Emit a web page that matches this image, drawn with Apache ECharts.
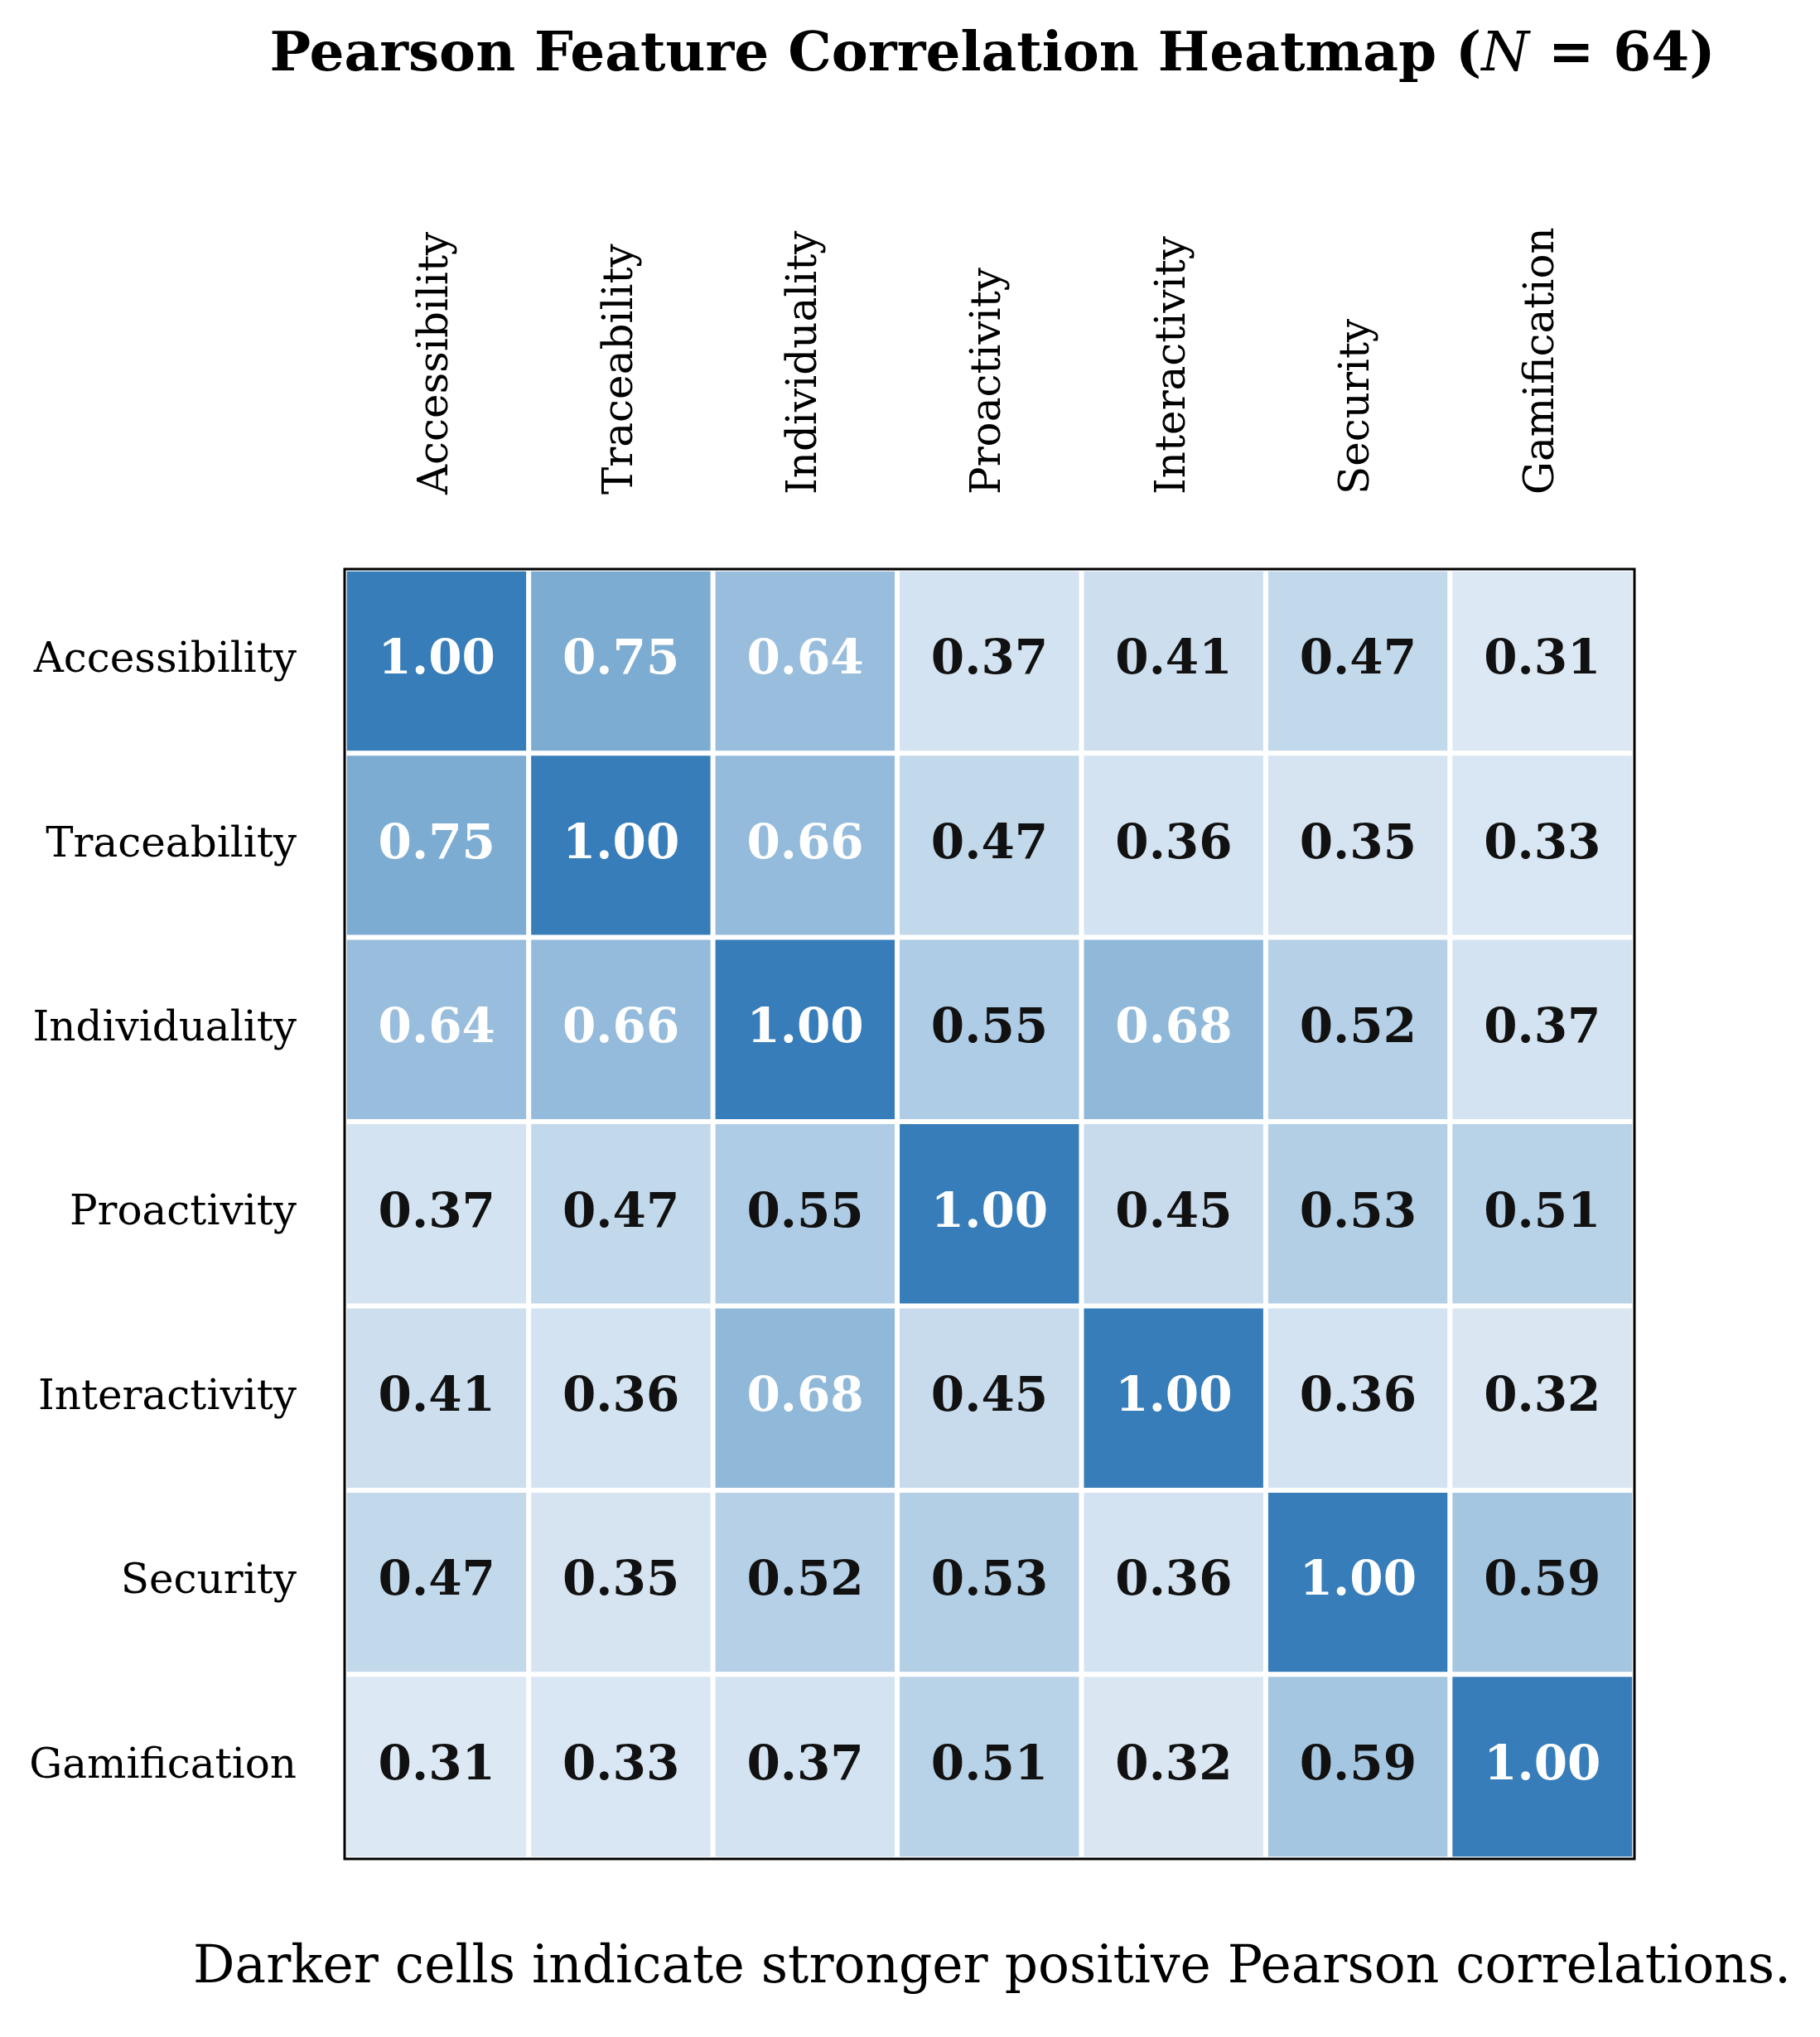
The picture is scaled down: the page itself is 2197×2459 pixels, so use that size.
<!DOCTYPE html>
<html><head><meta charset="utf-8">
<script src="https://cdn.jsdelivr.net/npm/echarts@6/dist/echarts.min.js"></script>
<style>html,body{margin:0;background:#fff}#main{width:2197px;height:2459px}</style>
</head><body><div id="main"></div>
<script>
var features = ['Accessibility', 'Traceability', 'Individuality', 'Proactivity', 'Interactivity', 'Security', 'Gamification']
var corr = [
	[1.00, 0.75, 0.64, 0.37, 0.41, 0.47, 0.31],
	[0.75, 1.00, 0.66, 0.47, 0.36, 0.35, 0.33],
	[0.64, 0.66, 1.00, 0.55, 0.68, 0.52, 0.37],
	[0.37, 0.47, 0.55, 1.00, 0.45, 0.53, 0.51],
	[0.41, 0.36, 0.68, 0.45, 1.00, 0.36, 0.32],
	[0.47, 0.35, 0.52, 0.53, 0.36, 1.00, 0.59],
	[0.31, 0.33, 0.37, 0.51, 0.32, 0.59, 1.00]
]
var serif = '"DejaVu Serif", "Liberation Serif", serif'

let myChart = echarts.init(document.getElementById('main'))
let data = []
for (let i = 0; i < features.length; i++) {
	for (let j = 0; j < features.length; j++) {
		let v = corr[i][j]
		data.push({
			value: [j, i, v],
			label: { color: v > 0.6 ? '#ffffff' : '#111111' }
		})
	}
}

option = {
	backgroundColor: '#fff',
	title: [{
		text: 'Pearson Feature Correlation Heatmap ({i|N} = 64)',
		left: 1193, top: 30, textAlign: 'center',
		textStyle: {
			fontFamily: serif, fontSize: 66, fontWeight: 'bold', color: '#000',
			rich: { i: { fontFamily: serif, fontSize: 66, fontStyle: 'italic', fontWeight: 'normal', color: '#000' } }
		}
	}, {
		text: 'Darker cells indicate stronger positive Pearson correlations.',
		right: 30, top: 2340,
		textStyle: { fontFamily: serif, fontSize: 63, fontWeight: 'normal', color: '#000' }
	}],
	grid: { left: 416, right: 224, top: 687, bottom: 215, show: true, borderColor: '#000', borderWidth: 3, z: 5 },
	xAxis: {
		type: 'category', position: 'top', data: features,
		axisLine: { show: false }, axisTick: { show: false }, splitLine: { show: false },
		axisLabel: { rotate: -90, margin: 90, fontFamily: serif, fontSize: 50, color: '#000' }
	},
	yAxis: {
		type: 'category', inverse: true, data: features,
		axisLine: { show: false }, axisTick: { show: false }, splitLine: { show: false },
		axisLabel: { margin: 58, fontFamily: serif, fontSize: 50, color: '#000' }
	},
	visualMap: {
		show: false, min: 0.3, max: 1.0, dimension: 2,
		inRange: { color: ['#dde9f4', '#c9dcee', '#a7c8e2', '#86b1d6', '#5e98c9', '#377db9'] }
	},
	series: [{
		type: 'heatmap', data: data,
		itemStyle: { borderColor: '#fff', borderWidth: 6 },
		label: {
			show: true, fontFamily: serif, fontSize: 58, fontWeight: 'bold',
			formatter: function (p) { return p.value[2].toFixed(2) }
		},
		emphasis: { disabled: true }
	}]
}
myChart.setOption(option)
</script></body></html>
